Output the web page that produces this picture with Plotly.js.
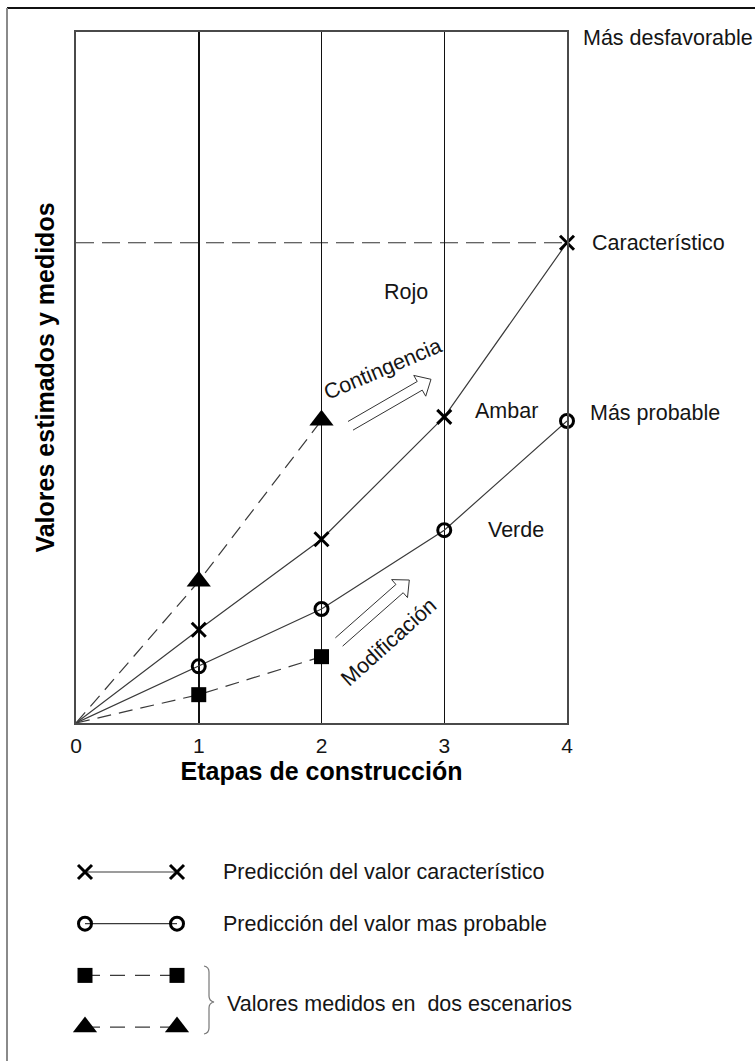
<!DOCTYPE html>
<html><head><meta charset="utf-8">
<script src="https://cdn.plot.ly/plotly-3.0.1.min.js"></script>
<style>html,body{margin:0;padding:0;background:#fff}</style>
</head><body><div id="chart" style="width:755px;height:1061px"></div>
<script>
// ---- data ----
const stages = [0, 1, 2, 3, 4];
const characteristic = [0, 1.35, 2.66, 4.43, 6.95];
const mostProbable = [0, 0.82, 1.65, 2.79, 4.37];
const measuredStages = [0, 1, 2];
const measuredLow = [0, 0.41, 0.96];
const measuredHigh = [0, 2.05, 4.38];
const tickLabels = ['0', '1', '2', '3', '4'];
const legendLabels = ['Predicción del valor característico', 'Predicción del valor mas probable'];
const groupLabel = 'Valores medidos en\u00a0 dos escenarios';
const xTitle = 'Etapas de construcción';
const yTitle = 'Valores estimados y medidos';

// ---- geometry ----
const W = 755, H = 1061;
const PX0 = 76, PX1 = 567, PY0 = 723, PY1 = 32;
const XR = [0, 4], YR = [0, 10];
const FONT = 'Liberation Sans, Arial, sans-serif';
const TXT = '#151515';
const LINE = '#3a3a3a';

const px2x = px => XR[0] + (px - PX0) / (PX1 - PX0) * (XR[1] - XR[0]);
const py2y = py => YR[0] + (PY0 - py) / (PY0 - PY1) * (YR[1] - YR[0]);
const pp = (px, py) => (px / W).toFixed(5) + ',' + (1 - py / H).toFixed(5);

function hollowArrow(tail, tip, w, hl, hw) {
  const dx = tip[0] - tail[0], dy = tip[1] - tail[1];
  const L = Math.hypot(dx, dy);
  const u = [dx / L, dy / L], n = [-u[1], u[0]];
  const base = [tip[0] - u[0] * hl, tip[1] - u[1] * hl];
  const pts = [
    [tail[0] + n[0] * w, tail[1] + n[1] * w],
    [base[0] + n[0] * w, base[1] + n[1] * w],
    [base[0] + n[0] * hw, base[1] + n[1] * hw],
    tip,
    [base[0] - n[0] * hw, base[1] - n[1] * hw],
    [base[0] - n[0] * w, base[1] - n[1] * w],
    [tail[0] - n[0] * w, tail[1] - n[1] * w]
  ];
  return pts.map((p, i) => (i ? 'L' : 'M') + px2x(p[0]).toFixed(4) + ',' + py2y(p[1]).toFixed(4)).join(' ');
}

const hideFirst = arr => arr.map((v, i) => i === 0 ? 0 : 1);

const markerX = { symbol: 'x-thin', size: 14, color: '#000', line: { width: 3, color: '#000' } };
const markerO = { symbol: 'circle-open', size: 13, color: '#000', line: { width: 3, color: '#000' } };
const markerS = { symbol: 'square', size: 15, color: '#000', line: { width: 0 } };
const markerT = { symbol: 'triangle-up', size: 21, color: '#000', line: { width: 0 } };
const DASH = '14px,8px';

const traces = [
  { x: stages, y: characteristic, mode: 'lines+markers', line: { color: LINE, width: 1.2 },
    marker: Object.assign({}, markerX, { opacity: hideFirst(stages) }), cliponaxis: false, hoverinfo: 'skip' },
  { x: stages, y: mostProbable, mode: 'lines+markers', line: { color: LINE, width: 1.2 },
    marker: Object.assign({}, markerO, { opacity: hideFirst(stages) }), cliponaxis: false, hoverinfo: 'skip' },
  { x: measuredStages, y: measuredLow, mode: 'lines+markers', line: { color: LINE, width: 1.2, dash: DASH },
    marker: Object.assign({}, markerS, { opacity: hideFirst(measuredStages) }), cliponaxis: false, hoverinfo: 'skip' },
  { x: measuredStages, y: measuredHigh, mode: 'lines+markers', line: { color: LINE, width: 1.2, dash: DASH },
    marker: Object.assign({}, markerT, { opacity: hideFirst(measuredStages) }), cliponaxis: false, hoverinfo: 'skip' },
  // legend keys
  { x: [0, 1], y: [0, 0], xaxis: 'x2', yaxis: 'y2', mode: 'lines+markers', line: { color: LINE, width: 1.2 }, marker: markerX, cliponaxis: false, hoverinfo: 'skip' },
  { x: [0, 1], y: [1, 1], xaxis: 'x2', yaxis: 'y2', mode: 'lines+markers', line: { color: LINE, width: 1.2 }, marker: markerO, cliponaxis: false, hoverinfo: 'skip' },
  { x: [0, 1], y: [2, 2], xaxis: 'x2', yaxis: 'y2', mode: 'lines+markers', line: { color: LINE, width: 1.2, dash: '15px,10px' }, marker: markerS, cliponaxis: false, hoverinfo: 'skip' },
  { x: [0, 1], y: [3, 3], xaxis: 'x2', yaxis: 'y2', mode: 'lines+markers', line: { color: LINE, width: 1.2, dash: '15px,10px' }, marker: markerT, cliponaxis: false, hoverinfo: 'skip' }
];

// legend row mapping: row i at pixel 872 + i*51.7
const ROW0 = 872, ROWD = 51.7;
const LEG_TOP = 848, LEG_BOT = H;
const legRange = [(LEG_BOT - ROW0) / ROWD, (LEG_TOP - ROW0) / ROWD];

const annFont = { family: FONT, size: 21.5, color: TXT };
const annotations = [
  { x: 4, y: YR[1], xref: 'x', yref: 'y', text: 'Más desfavorable', xanchor: 'left', yanchor: 'middle', xshift: 14, yshift: -6, showarrow: false, font: annFont },
  { x: 4, y: characteristic[4], xref: 'x', yref: 'y', text: 'Característico', xanchor: 'left', yanchor: 'middle', xshift: 23, showarrow: false, font: annFont },
  { x: 4, y: mostProbable[4], xref: 'x', yref: 'y', text: 'Más probable', xanchor: 'left', yanchor: 'middle', xshift: 21, yshift: 8, showarrow: false, font: annFont },
  { x: px2x(406), y: py2y(292), xref: 'x', yref: 'y', text: 'Rojo', showarrow: false, font: annFont },
  { x: px2x(506), y: py2y(411), xref: 'x', yref: 'y', text: 'Ambar', showarrow: false, font: annFont },
  { x: px2x(516), y: py2y(530), xref: 'x', yref: 'y', text: 'Verde', showarrow: false, font: annFont },
  { x: px2x(383), y: py2y(369), xref: 'x', yref: 'y', text: 'Contingencia', textangle: -23, showarrow: false, font: annFont },
  { x: px2x(389), y: py2y(642), xref: 'x', yref: 'y', text: 'Modificación', textangle: -42, showarrow: false, font: annFont },
  { x: 221 / W, y: 0, xref: 'paper', yref: 'y2', text: legendLabels[0], xanchor: 'left', yanchor: 'middle', showarrow: false, font: annFont },
  { x: 221 / W, y: 1, xref: 'paper', yref: 'y2', text: legendLabels[1], xanchor: 'left', yanchor: 'middle', showarrow: false, font: annFont },
  { x: 225 / W, y: 2.55, xref: 'paper', yref: 'y2', text: groupLabel, xanchor: 'left', yanchor: 'middle', showarrow: false, font: annFont }
];

const shapes = [
  // outer frame
  { type: 'line', xref: 'paper', yref: 'paper', x0: 7 / W, x1: 1.05, y0: 1 - 8 / H, y1: 1 - 8 / H, line: { color: '#111', width: 2 } },
  { type: 'line', xref: 'paper', yref: 'paper', x0: 7 / W, x1: 7 / W, y0: 1 - 8 / H, y1: -0.05, line: { color: '#8a8a8a', width: 2 } },
  // characteristic limit line
  { type: 'line', xref: 'x', yref: 'y', x0: XR[0], x1: stages[4], y0: characteristic[4], y1: characteristic[4], line: { color: '#333', width: 1.2, dash: '18px,8px' }, layer: 'below' },
  // hollow arrows
  { type: 'path', xref: 'x', yref: 'y', path: hollowArrow([350.5, 425.8], [431, 379.3], 5, 13, 12), line: { color: '#333', width: 1 } },
  { type: 'path', xref: 'x', yref: 'y', path: hollowArrow([339, 642], [409.3, 580], 5.5, 13, 12), line: { color: '#333', width: 1 } },
  // brace
  { type: 'path', xref: 'paper', yref: 'paper',
    path: 'M' + pp(204, 966) + ' Q' + pp(209, 967) + ' ' + pp(209, 972) + ' L' + pp(209, 996) + ' Q' + pp(209, 1001) + ' ' + pp(214, 1002) +
          ' Q' + pp(209, 1003) + ' ' + pp(209, 1008) + ' L' + pp(209, 1028) + ' Q' + pp(209, 1033) + ' ' + pp(204, 1034),
    line: { color: '#777', width: 1.2 } }
];

const layout = {
  width: W, height: H,
  margin: { l: 0, r: 0, t: 0, b: 0 },
  paper_bgcolor: '#fff', plot_bgcolor: 'rgba(0,0,0,0)',
  showlegend: false,
  font: { family: FONT, color: TXT },
  xaxis: {
    domain: [PX0 / W, PX1 / W], range: XR, fixedrange: true,
    tickvals: stages, ticktext: tickLabels, tickfont: { family: FONT, size: 21, color: TXT },
    ticks: 'outside', ticklen: 3, tickcolor: 'rgba(0,0,0,0)',
    showgrid: true, gridcolor: '#111', gridwidth: 1.5, zeroline: false,
    showline: true, mirror: true, linecolor: '#4a4a4a', linewidth: 2,
    title: { text: '<b>' + xTitle + '</b>', font: { family: FONT, size: 25, color: '#000' }, standoff: 2 }
  },
  yaxis: {
    domain: [1 - PY0 / H, 1 - PY1 / H], range: YR, fixedrange: true,
    showticklabels: false, ticks: '', showgrid: false, zeroline: false,
    showline: true, mirror: true, linecolor: '#4a4a4a', linewidth: 2,
    title: { text: '<b>' + yTitle + '</b>', font: { family: FONT, size: 25, color: '#000' }, standoff: 12 }
  },
  xaxis2: { domain: [85 / W, 177 / W], range: [0, 1], anchor: 'y2', visible: false, fixedrange: true },
  yaxis2: { domain: [0, 1 - LEG_TOP / H], range: legRange, anchor: 'x2', visible: false, fixedrange: true },
  annotations: annotations,
  shapes: shapes
};

Plotly.newPlot('chart', traces, layout, { staticPlot: true, displayModeBar: false });
</script>
</body></html>
